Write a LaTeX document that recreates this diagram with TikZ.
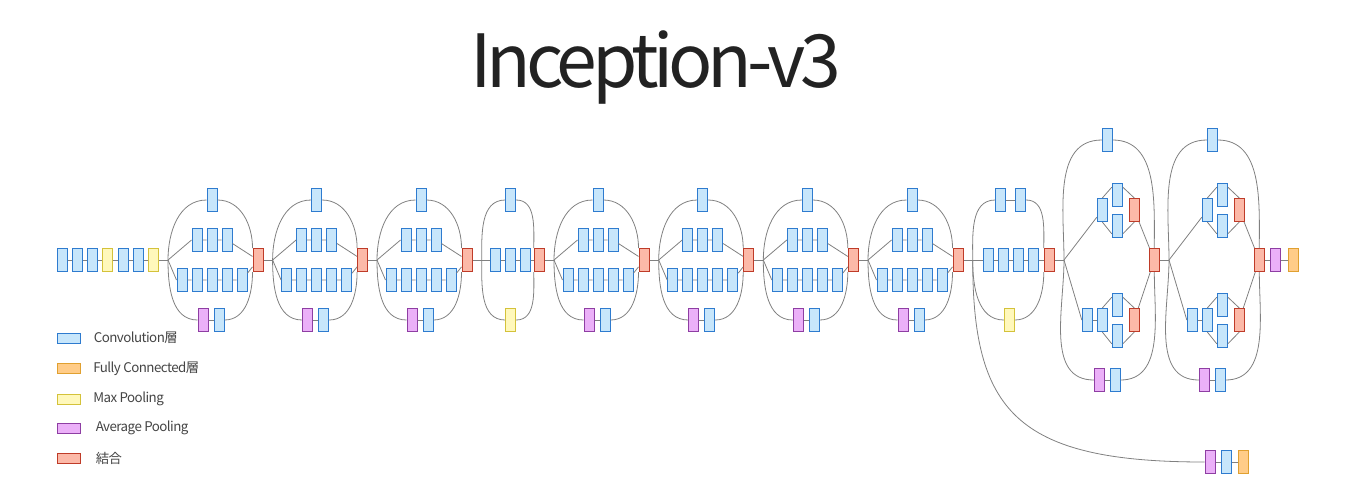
\documentclass[tikz,border=0pt]{standalone}
\usepackage{fontspec}
\setmainfont{Noto Sans CJK JP}
\newfontfamily\titlefont[LetterSpace=-7]{Noto Sans CJK JP}
\newfontfamily\lgdfont[LetterSpace=-4]{Noto Sans CJK JP}
\usepackage{tikz}
\usetikzlibrary{positioning}

\definecolor{convfill}{HTML}{C7E6FB}
\definecolor{convline}{HTML}{2E7BCF}
\definecolor{fcfill}{HTML}{FFCC88}
\definecolor{fcline}{HTML}{E0A030}
\definecolor{maxfill}{HTML}{FFF8BB}
\definecolor{maxline}{HTML}{D4C23A}
\definecolor{avgfill}{HTML}{EBB0F8}
\definecolor{avgline}{HTML}{8E3EA3}
\definecolor{catfill}{HTML}{FCB9A8}
\definecolor{catline}{HTML}{BF3B28}
\definecolor{linkgray}{HTML}{808080}
\definecolor{titlegray}{HTML}{222222}
\definecolor{lgdgray}{HTML}{444444}

\tikzset{
  box/.style={rectangle, inner sep=0pt, minimum width=7.5pt, minimum height=17.25pt, line width=0.75pt},
  conv/.style={box, draw=convline, fill=convfill},
  fc/.style={box, draw=fcline, fill=fcfill},
  maxp/.style={box, draw=maxline, fill=maxfill},
  avgp/.style={box, draw=avgline, fill=avgfill},
  cat/.style={box, draw=catline, fill=catfill},
  lgd/.style={minimum width=17.25pt, minimum height=7.5pt},
  lgdtext/.style={anchor=west, inner sep=0pt, text=lgdgray, font=\lgdfont\fontsize{10}{12}\selectfont},
  link/.style={draw=linkgray, line width=0.6pt},
}

\begin{document}
\begin{tikzpicture}[x=0.75pt,y=0.75pt,yscale=-1,xscale=1]
\path[use as bounding box] (0,0) rectangle (1360,480);

% Title
\node[anchor=base, inner sep=0pt, text=titlegray, font=\titlefont\fontsize{55}{60}\selectfont] (title) at (655.5,87) {Inception-v3};

% Stem
\node[conv] (st1) at (62,260) {};
\node[conv] (st2) at (77,260) {};
\node[conv] (st3) at (92,260) {};
\node[maxp] (st4) at (107,260) {};
\node[conv] (st5) at (123,260) {};
\node[conv] (st6) at (138,260) {};
\node[maxp] (st7) at (153,260) {};

% Inception blocks (four branches)
\foreach \i/\sx in {1/168,2/272.6,3/377,5/554,6/658.7,7/763.3,8/868}{
  \coordinate (s\i) at (\sx,260);
  \node[conv] (t\i) at (\sx+44,200) {};
  \foreach \j in {1,2,3} \node[conv] (a\i-\j) at (\sx+14+15*\j,240) {};
  \foreach \j in {1,...,5} \node[conv] (b\i-\j) at (\sx-1+15*\j,280) {};
  \node[avgp] (p\i) at (\sx+35,320) {};
  \node[conv] (q\i) at (\sx+51,320) {};
  \node[cat] (c\i) at (\sx+90,260) {};
  \draw[link] (s\i) to[out=-90,in=180] (t\i.west);
  \draw[link] (t\i.east) to[out=0,in=-90] (c\i.north west);
  \draw[link] (s\i) -- (a\i-1.west);
  \draw[link] (a\i-1) -- (a\i-2) -- (a\i-3) -- (c\i);
  \draw[link] (s\i) -- (b\i-1.west);
  \draw[link] (b\i-1) -- (b\i-2) -- (b\i-3) -- (b\i-4) -- (b\i-5) -- (c\i);
  \draw[link] (s\i) to[out=90,in=180] (p\i.west);
  \draw[link] (p\i) -- (q\i);
  \draw[link] (q\i.east) to[out=0,in=90] (c\i.south west);
}

% Reduction block 1
\coordinate (s4) at (481.7,260);
\node[conv] (t4) at (510.7,200) {};
\node[conv] (m4-1) at (495.7,260) {};
\node[conv] (m4-2) at (510.7,260) {};
\node[conv] (m4-3) at (525.7,260) {};
\node[maxp] (y4) at (510.7,320) {};
\node[cat] (c4) at (539.3,260) {};
\draw[link] (s4) to[out=-90,in=180] (t4.west);
\draw[link] (t4.east) to[out=0,in=-90] (c4.north west);
\draw[link] (s4) -- (m4-1) -- (m4-2) -- (m4-3) -- (c4);
\draw[link] (s4) to[out=90,in=180] (y4.west);
\draw[link] (y4.east) to[out=0,in=90] (c4.south west);

% Reduction block 2
\coordinate (s9) at (972.7,260);
\node[conv] (t9-1) at (1000.7,200) {};
\node[conv] (t9-2) at (1020.7,200) {};
\node[conv] (m9-1) at (988.3,260) {};
\node[conv] (m9-2) at (1003.3,260) {};
\node[conv] (m9-3) at (1018.3,260) {};
\node[conv] (m9-4) at (1033.3,260) {};
\node[maxp] (y9) at (1009.3,320) {};
\node[cat] (c9) at (1049.3,260) {};
\draw[link] (s9) to[out=-90,in=180] (t9-1.west);
\draw[link] (t9-1) -- (t9-2);
\draw[link] (t9-2.east) to[out=0,in=-90] (c9.north west);
\draw[link] (s9) -- (m9-1) -- (m9-2) -- (m9-3) -- (m9-4) -- (c9);
\draw[link] (s9) to[out=90,in=180] (y9.west);
\draw[link] (y9.east) to[out=0,in=90] (c9.south west);

% Auxiliary classifier
\node[avgp] (x1) at (1210,462) {};
\node[conv] (x2) at (1226.3,462) {};
\node[fc] (x3) at (1243.3,462) {};
\draw[link] (s9) .. controls +(0,150) and +(-190,0) .. (x1.west);
\draw[link] (x1) -- (x2) -- (x3);

% Expanded blocks
\foreach \i/\sx in {10/1064,11/1169}{
  \coordinate (s\i) at (\sx,260);
  \node[conv] (t\i) at (\sx+43.3,140) {};
  \node[conv] (u\i-a) at (\sx+38.3,210) {};
  \node[conv] (u\i-b) at (\sx+53.3,195) {};
  \node[conv] (u\i-c) at (\sx+53.3,226) {};
  \node[cat] (u\i-k) at (\sx+70.3,210) {};
  \node[conv] (l\i-a) at (\sx+23.3,320) {};
  \node[conv] (l\i-b) at (\sx+38.3,320) {};
  \node[conv] (l\i-c) at (\sx+53.3,305) {};
  \node[conv] (l\i-d) at (\sx+53.3,336) {};
  \node[cat] (l\i-k) at (\sx+70.3,320) {};
  \node[avgp] (p\i) at (\sx+35.3,380) {};
  \node[conv] (q\i) at (\sx+51,380) {};
  \node[cat] (c\i) at (\sx+90.3,260) {};
  \draw[link] (s\i) to[out=-90,in=180] (t\i.west);
  \draw[link] (t\i.east) to[out=0,in=-90] (c\i.north);
  \draw[link] (s\i) -- (u\i-a);
  \draw[link] (u\i-a.north) -- (u\i-b.125);
  \draw[link] (u\i-a.south) -- (u\i-c.235);
  \draw[link] (u\i-b.55) -- (u\i-k.north);
  \draw[link] (u\i-c.-55) -- (u\i-k.south);
  \draw[link] (u\i-k) -- (c\i);
  \draw[link] (s\i) -- (l\i-a.west);
  \draw[link] (l\i-a) -- (l\i-b);
  \draw[link] (l\i-b.north) -- (l\i-c.125);
  \draw[link] (l\i-b.south) -- (l\i-d.235);
  \draw[link] (l\i-c.55) -- (l\i-k.north);
  \draw[link] (l\i-d.-55) -- (l\i-k.south);
  \draw[link] (l\i-k) -- (c\i);
  \draw[link] (s\i) to[out=90,in=180] (p\i.west);
  \draw[link] (p\i) -- (q\i);
  \draw[link] (q\i.east) to[out=0,in=90] (c\i.south);
}

% Head
\node[avgp] (fp) at (1275,260) {};
\node[fc] (fo) at (1293.3,260) {};

% Main line
\draw[link] (st1) -- (st2) -- (st3) -- (st4) -- (st5) -- (st6) -- (st7) -- (s1);
\draw[link] (c1) -- (s2);
\draw[link] (c2) -- (s3);
\draw[link] (c3) -- (s4);
\draw[link] (c4) -- (s5);
\draw[link] (c5) -- (s6);
\draw[link] (c6) -- (s7);
\draw[link] (c7) -- (s8);
\draw[link] (c8) -- (s9);
\draw[link] (c9) -- (s10);
\draw[link] (c10) -- (s11);
\draw[link] (c11) -- (fp) -- (fo);

% Legend
\node[conv, lgd] (k1) at (69,338) {};
\node[fc, lgd] (k2) at (69,368.5) {};
\node[maxp, lgd] (k3) at (69,399) {};
\node[avgp, lgd] (k4) at (69,428) {};
\node[cat, lgd] (k5) at (69,458) {};
\node[lgdtext] (k1t) at (93.5,338) {Convolution層};
\node[lgdtext] (k2t) at (93,368.5) {Fully Connected層};
\node[lgdtext] (k3t) at (93,399) {Max Pooling};
\node[lgdtext] (k4t) at (95.5,428) {Average Pooling};
\node[lgdtext] (k5t) at (95.5,458) {結合};
\end{tikzpicture}
\end{document}
